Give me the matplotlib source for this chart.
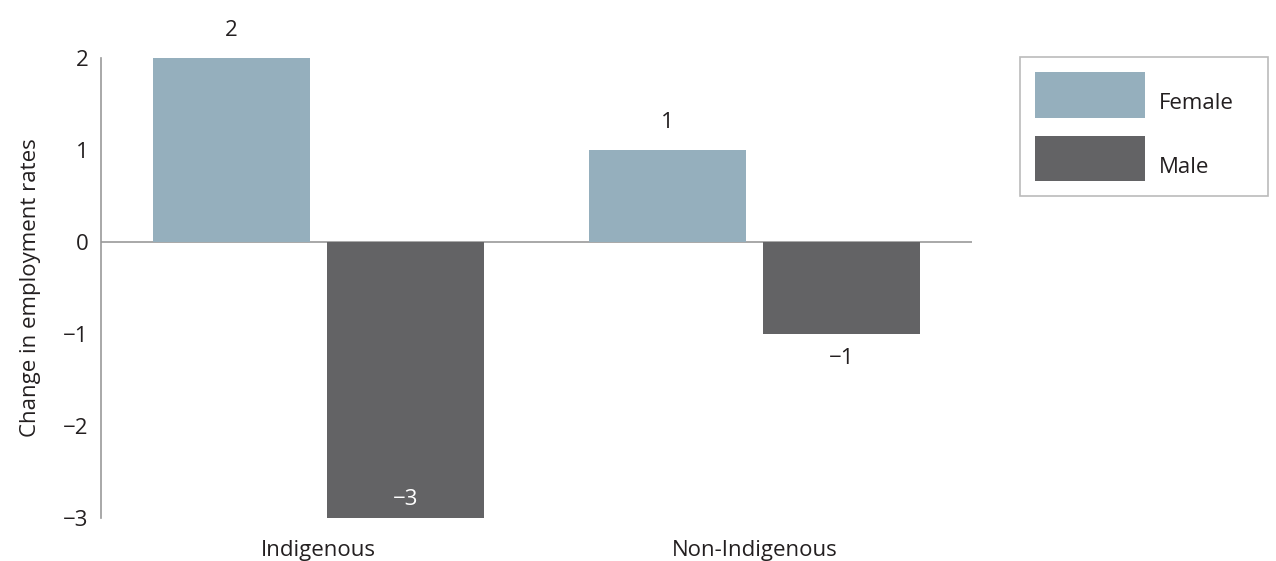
import matplotlib
matplotlib.use('Agg')
import matplotlib.pyplot as plt
import numpy as np

plt.rcParams['font.family'] = ['Open Sans', 'DejaVu Sans']

groups = ['Indigenous', 'Non-Indigenous']
female = [2, 1]
male = [-3, -1]
series_names = ['Female', 'Male']
colors = ['#95afbd', '#636365']
text_color = '#231f20'
fs = 16

fig = plt.figure(figsize=(12.76, 5.61), dpi=100)
ax = fig.add_axes([101 / 1276, 1 - 518 / 561, 871 / 1276, 460 / 561])

x = np.arange(len(groups))
width = 0.36
b1 = ax.bar(x - 0.2, female, width, color=colors[0], label=series_names[0])
b2 = ax.bar(x + 0.2, male, width, color=colors[1], label=series_names[1])

ax.set_xlim(-0.5, 1.5)
ax.set_ylim(-3, 2)
ax.axhline(0, color='#999999', lw=1.2, zorder=0)

for sp in ['top', 'right', 'bottom']:
    ax.spines[sp].set_visible(False)
ax.spines['left'].set_color('#999999')
ax.spines['left'].set_linewidth(1.2)

ax.set_yticks([-3, -2, -1, 0, 1, 2])
ax.tick_params(axis='both', length=0, labelsize=fs, colors=text_color)
ax.tick_params(axis='y', pad=9)
ax.tick_params(axis='x', pad=16)
ax.set_xticks(x)
ax.set_xticklabels(groups)
ax.set_ylabel('Change in employment rates', fontsize=fs, color=text_color, labelpad=16)

# value labels: positives above, negatives below, the big drop inside in white
for bars in (b1, b2):
    for rect in bars:
        v = rect.get_height()
        cx = rect.get_x() + rect.get_width() / 2
        label = str(int(v)).replace('-', '\u2212')
        if v >= 0:
            ax.annotate(label, (cx, v), xytext=(0, 12), textcoords='offset points',
                        ha='center', va='bottom', fontsize=fs, color=text_color)
        elif v <= -3:
            ax.annotate(label, (cx, v), xytext=(0, 6), textcoords='offset points',
                        ha='center', va='bottom', fontsize=fs, color='white')
        else:
            ax.annotate(label, (cx, v), xytext=(0, -10), textcoords='offset points',
                        ha='center', va='top', fontsize=fs, color=text_color)

leg = fig.legend(handles=[b1, b2], labels=series_names,
                 loc='upper left',
                 bbox_to_anchor=(1020 / 1276, 1 - 197 / 561, 248 / 1276, 140 / 561),
                 mode='expand',
                 fontsize=fs, frameon=True, fancybox=False,
                 handlelength=4.95, handleheight=2.77, labelspacing=0.82,
                 handletextpad=0.6, borderpad=0.68, borderaxespad=0)
leg.get_frame().set_edgecolor('#aaaaaa')
leg.get_frame().set_linewidth(1.2)
for t in leg.get_texts():
    t.set_color(text_color)
    # labels sit a little below the swatch centre
    t.set_position((0, -8))

fig.savefig('out.png', dpi=100)
